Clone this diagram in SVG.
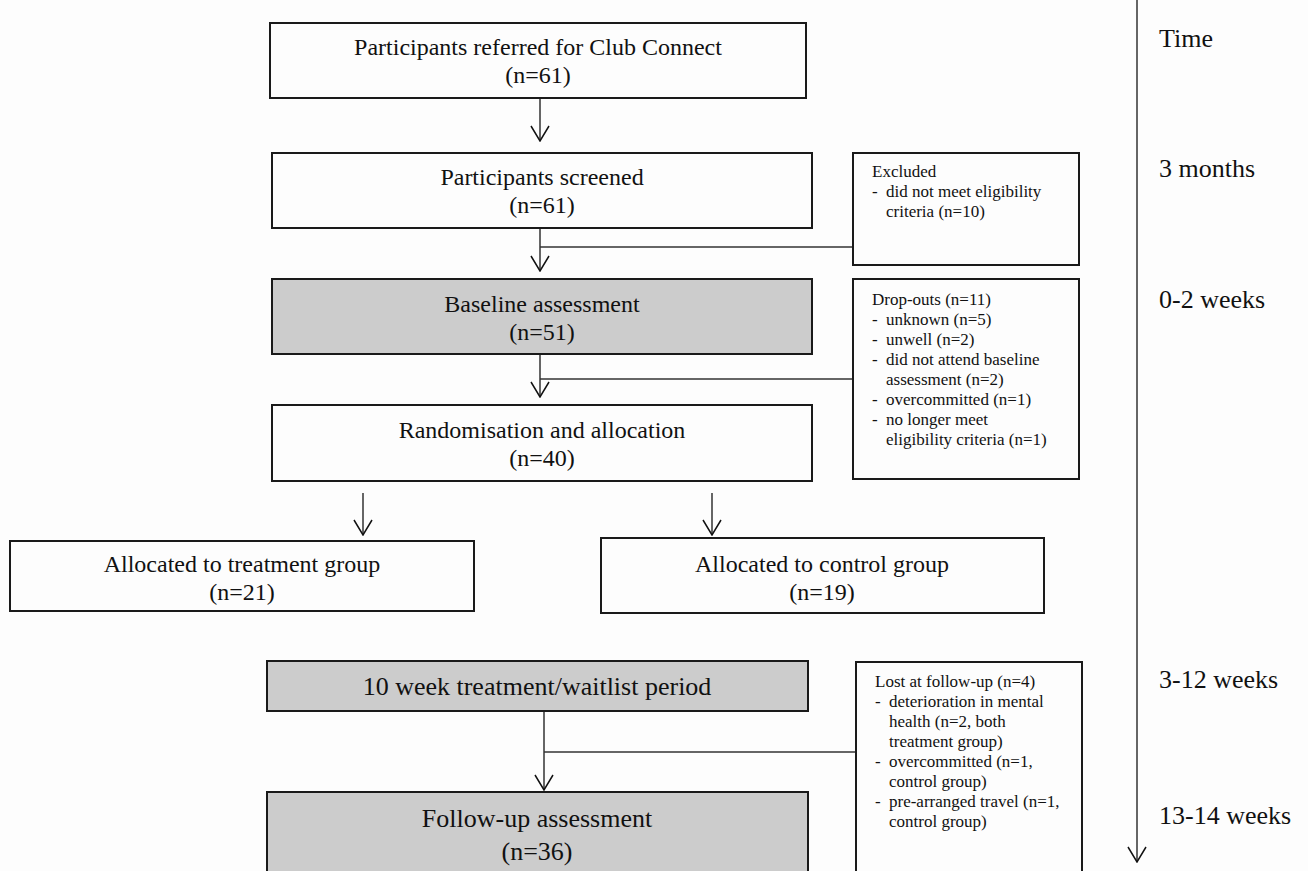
<svg xmlns="http://www.w3.org/2000/svg" width="1308" height="871" viewBox="0 0 1308 871">
<defs>
<marker id="v" viewBox="-2 -11 18 22" refX="15" refY="0" markerWidth="18" markerHeight="22" markerUnits="userSpaceOnUse" orient="auto">
<path d="M0,-9 L15,0 L0,9" fill="none" stroke="#111" stroke-width="1.5"/>
</marker>
<style>
.box{fill:#fdfdfd;stroke:#1a1a1a;stroke-width:2}
.gray{fill:#cccccc;stroke:#1a1a1a;stroke-width:2}
.t{font-family:"Liberation Serif","Times New Roman",serif;font-size:24px;fill:#111;text-anchor:middle}
.tl{font-family:"Liberation Serif","Times New Roman",serif;font-size:26px;fill:#111;text-anchor:middle}
.s{font-family:"Liberation Serif","Times New Roman",serif;font-size:17px;fill:#111}
.tm{font-family:"Liberation Serif","Times New Roman",serif;font-size:26px;fill:#111}
.c{fill:none;stroke:#333;stroke-width:1.5}
</style>
</defs>
<rect width="1308" height="871" fill="#fdfdfd"/>
<g id="connectors">
<line class="c" x1="540" y1="99" x2="540" y2="141" marker-end="url(#v)"/>
<line class="c" x1="540" y1="229" x2="540" y2="271" marker-end="url(#v)"/>
<line class="c" x1="540" y1="247" x2="853" y2="247"/>
<line class="c" x1="540" y1="355" x2="540" y2="397" marker-end="url(#v)"/>
<line class="c" x1="540" y1="379" x2="853" y2="379"/>
<line class="c" x1="363" y1="493" x2="363" y2="535" marker-end="url(#v)"/>
<line class="c" x1="712" y1="493" x2="712" y2="535" marker-end="url(#v)"/>
<line class="c" x1="544" y1="712" x2="544" y2="790" marker-end="url(#v)"/>
<line class="c" x1="544" y1="752" x2="856" y2="752"/>
<line class="c" x1="1137" y1="0" x2="1137" y2="862" marker-end="url(#v)"/>
</g>
<g id="referred">
<rect class="box" x="270" y="23" width="536" height="75"/>
<text class="t" x="538" y="55">Participants referred for Club Connect</text>
<text class="t" x="538" y="83">(n=61)</text>
</g>
<g id="screened">
<rect class="box" x="272" y="153" width="540" height="75"/>
<text class="t" x="542" y="185">Participants screened</text>
<text class="t" x="542" y="213">(n=61)</text>
</g>
<g id="excluded">
<rect class="box" x="853" y="153" width="226" height="112"/>
<text class="s" x="872" y="177">Excluded</text>
<text class="s" x="872" y="197">-</text><text class="s" x="886" y="197">did not meet eligibility</text>
<text class="s" x="886" y="217">criteria (n=10)</text>
</g>
<g id="baseline">
<rect class="gray" x="272" y="279" width="540" height="75"/>
<text class="t" x="542" y="312">Baseline assessment</text>
<text class="t" x="542" y="340">(n=51)</text>
</g>
<g id="dropouts">
<rect class="box" x="853" y="279" width="226" height="200"/>
<text class="s" x="872" y="305">Drop-outs (n=11)</text>
<text class="s" x="872" y="325">-</text><text class="s" x="886" y="325">unknown (n=5)</text>
<text class="s" x="872" y="345">-</text><text class="s" x="886" y="345">unwell (n=2)</text>
<text class="s" x="872" y="365">-</text><text class="s" x="886" y="365">did not attend baseline</text>
<text class="s" x="886" y="385">assessment (n=2)</text>
<text class="s" x="872" y="405">-</text><text class="s" x="886" y="405">overcommitted (n=1)</text>
<text class="s" x="872" y="425">-</text><text class="s" x="886" y="425">no longer meet</text>
<text class="s" x="886" y="445">eligibility criteria (n=1)</text>
</g>
<g id="randomisation">
<rect class="box" x="272" y="405" width="540" height="76"/>
<text class="t" x="542" y="438">Randomisation and allocation</text>
<text class="t" x="542" y="466">(n=40)</text>
</g>
<g id="treatment">
<rect class="box" x="10" y="541" width="464" height="70"/>
<text class="t" x="242" y="572">Allocated to treatment group</text>
<text class="t" x="242" y="600">(n=21)</text>
</g>
<g id="control">
<rect class="box" x="601" y="538" width="443" height="75"/>
<text class="t" x="822" y="572">Allocated to control group</text>
<text class="t" x="822" y="600">(n=19)</text>
</g>
<g id="waitlist">
<rect class="gray" x="267" y="661" width="541" height="50"/>
<text class="tl" x="537" y="695">10 week treatment/waitlist period</text>
</g>
<g id="lost">
<rect class="box" x="856" y="662" width="226" height="220"/>
<text class="s" x="875" y="687">Lost at follow-up (n=4)</text>
<text class="s" x="875" y="707">-</text><text class="s" x="889" y="707">deterioration in mental</text>
<text class="s" x="889" y="727">health (n=2, both</text>
<text class="s" x="889" y="747">treatment group)</text>
<text class="s" x="875" y="767">-</text><text class="s" x="889" y="767">overcommitted (n=1,</text>
<text class="s" x="889" y="787">control group)</text>
<text class="s" x="875" y="807">-</text><text class="s" x="889" y="807">pre-arranged travel (n=1,</text>
<text class="s" x="889" y="827">control group)</text>
</g>
<g id="followup">
<rect class="gray" x="267" y="792" width="541" height="90"/>
<text class="tl" x="537" y="827">Follow-up assessment</text>
<text class="tl" x="537" y="860">(n=36)</text>
</g>
<g id="timeline">
<text class="tm" x="1159" y="47">Time</text>
<text class="tm" x="1159" y="177">3 months</text>
<text class="tm" x="1159" y="308">0-2 weeks</text>
<text class="tm" x="1159" y="688">3-12 weeks</text>
<text class="tm" x="1159" y="824">13-14 weeks</text>
</g>
</svg>
